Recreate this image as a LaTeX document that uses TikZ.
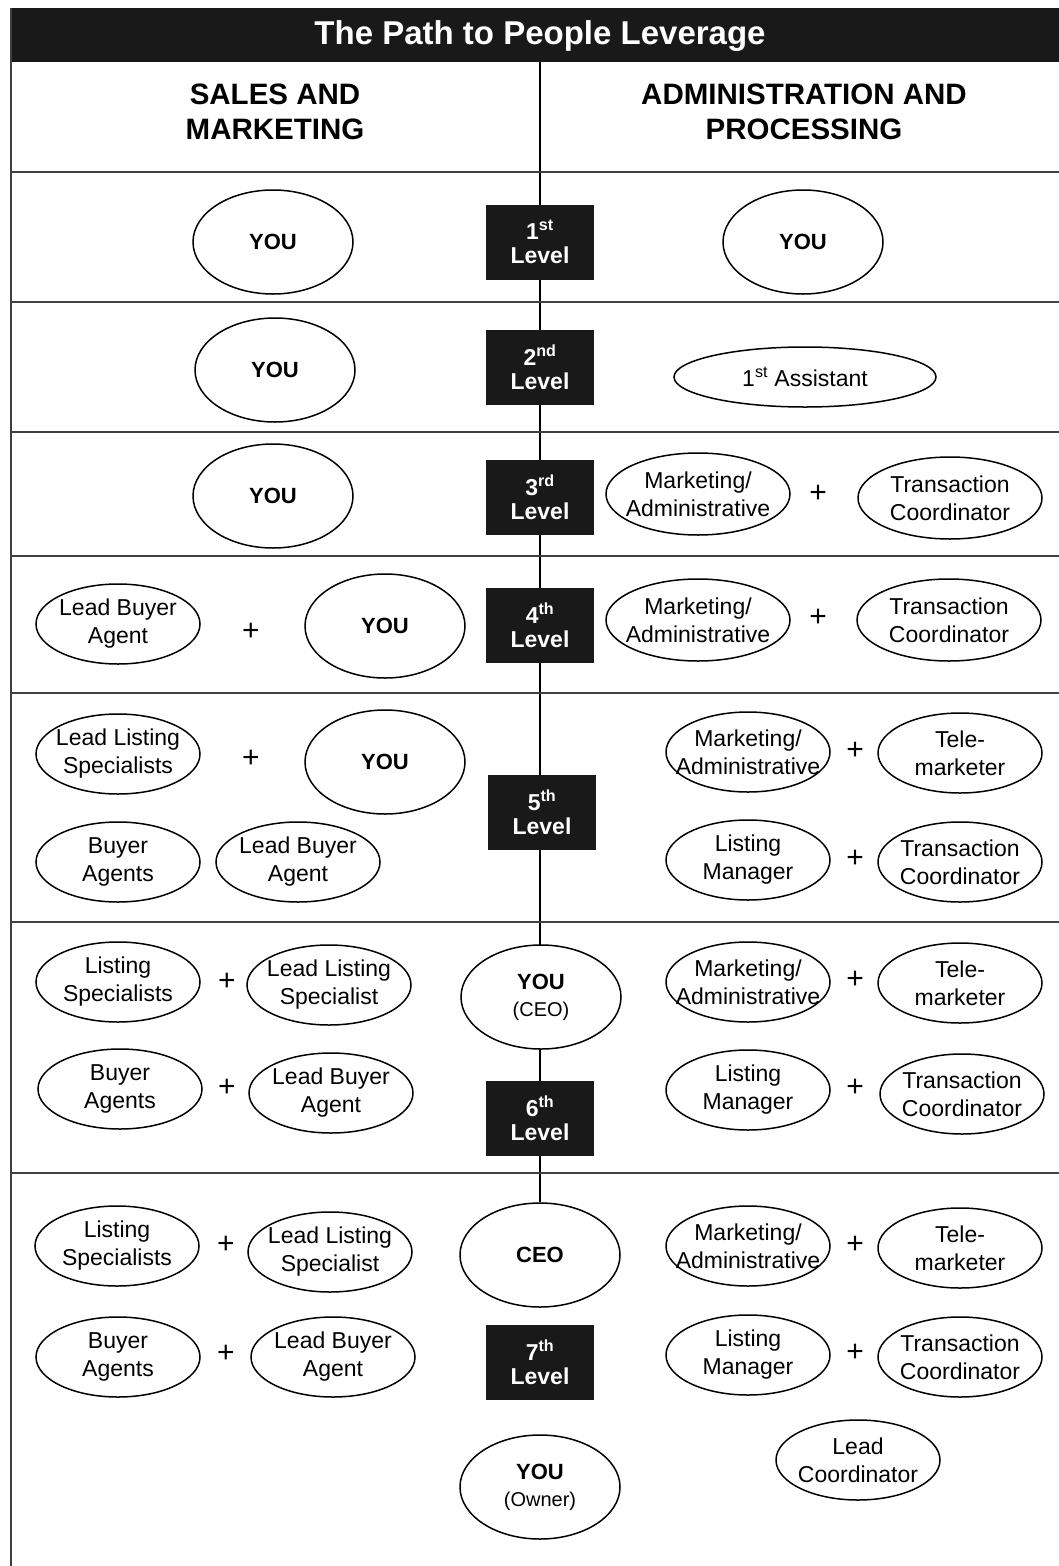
\documentclass[tikz,border=0pt]{standalone}
\usepackage{fontspec}
\setmainfont{Liberation Sans}
\usetikzlibrary{shapes.geometric,backgrounds}
\tikzset{
	role/.style={ellipse,draw,fill=white,line width=1.5pt,inner xsep=-20pt,inner ysep=-5pt,minimum width=164pt,minimum height=80pt,align=center,font=\fontsize{23}{28}\selectfont},
	roleW/.style={role,minimum width=184pt,minimum height=82pt},
	you/.style={role,inner sep=0pt,minimum width=160pt,minimum height=104pt,font=\fontsize{22}{27}\selectfont\bfseries},
	levelbox/.style={fill=black!90,text=white,minimum width=108pt,minimum height=75pt,inner sep=0pt,align=center,font=\fontsize{23}{24}\selectfont\bfseries},
	plus/.style={inner sep=0pt,font=\fontsize{30}{30}\selectfont},
	heading/.style={align=center,font=\fontsize{29.5}{35}\selectfont\bfseries},
	rule/.style={line width=2pt,black!75},
}
\newcommand{\sub}[1]{{\mdseries\fontsize{20}{27}\selectfont #1}}
\begin{document}
\begin{tikzpicture}[x=1pt,y=-1pt]
			\useasboundingbox (0,0) rectangle (1059,1566);
			\fill[black!90] (11,8) rectangle (1059,62);
			\node at (540,36) [text=white,font=\fontsize{33}{36}\selectfont\bfseries] (title) {The Path to People Leverage};
			\node at (275,112) [heading] (sales) {SALES AND\\MARKETING};
			\node at (804,112) [heading] (admin) {ADMINISTRATION AND\\PROCESSING};

			\coordinate (spine_top) at (540,62);
			\draw[rule] (11,8) -- (11,1566);
			\foreach \y in {172,302,432,556,693,922,1173}
				\draw[rule] (11,\y) -- (1059,\y);

			% 1st level
			\node at (540,242)  [levelbox] (level1) {1\textsuperscript{st}\\Level};
			\node at (273,242)  [you]      (you1_sales) {YOU};
			\node at (803,242)  [you]      (you1_admin) {YOU};

			% 2nd level
			\node at (540,367)  [levelbox] (level2) {2\textsuperscript{nd}\\Level};
			\node at (275,370)  [you]      (you2) {YOU};
			\node at (805,377)  [role,inner sep=0pt,minimum width=262pt,minimum height=60pt] (assistant2) {1\textsuperscript{st} Assistant};

			% 3rd level
			\node at (540,497)  [levelbox] (level3) {3\textsuperscript{rd}\\Level};
			\node at (273,496)  [you]      (you3) {YOU};
			\node at (698,494)  [roleW]    (marketing3) {Marketing/\\Administrative};
			\node at (818,494)  [plus]     (plus3) {+};
			\node at (950,498)  [roleW]    (transaction3) {Transaction\\Coordinator};

			% 4th level
			\node at (540,625)  [levelbox] (level4) {4\textsuperscript{th}\\Level};
			\node at (118,624)  [role]     (leadbuyer4) {Lead Buyer\\Agent};
			\node at (251,632)  [plus]     (plus4a) {+};
			\node at (385,626)  [you]      (you4) {YOU};
			\node at (698,620)  [roleW]    (marketing4) {Marketing/\\Administrative};
			\node at (818,618)  [plus]     (plus4b) {+};
			\node at (949,620)  [roleW]    (transaction4) {Transaction\\Coordinator};

			% 5th level
			\node at (542,812)  [levelbox] (level5) {5\textsuperscript{th}\\Level};
			\node at (118,754)  [role]     (leadlisting5) {Lead Listing\\Specialists};
			\node at (251,759)  [plus]     (plus5a) {+};
			\node at (385,762)  [you]      (you5) {YOU};
			\node at (118,862)  [role]     (buyers5) {Buyer\\Agents};
			\node at (298,862)  [role]     (leadbuyer5) {Lead Buyer\\Agent};
			\node at (748,752)  [role]     (marketing5) {Marketing/\\Administrative};
			\node at (855,751)  [plus]     (plus5b) {+};
			\node at (960,753)  [role]     (tele5) {Tele-\\marketer};
			\node at (748,860)  [role]     (listingmgr5) {Listing\\Manager};
			\node at (855,859)  [plus]     (plus5c) {+};
			\node at (960,862)  [role]     (transaction5) {Transaction\\Coordinator};

			% 6th level
			\node at (541,997)  [you]      (you6) {YOU\\\sub{(CEO)}};
			\node at (540,1118) [levelbox] (level6) {6\textsuperscript{th}\\Level};
			\node at (118,982)  [role]     (listing6) {Listing\\Specialists};
			\node at (227,982)  [plus]     (plus6a) {+};
			\node at (329,985)  [role]     (leadlisting6) {Lead Listing\\Specialist};
			\node at (120,1089) [role]     (buyers6) {Buyer\\Agents};
			\node at (227,1088) [plus]     (plus6b) {+};
			\node at (331,1093) [role]     (leadbuyer6) {Lead Buyer\\Agent};
			\node at (748,982)  [role]     (marketing6) {Marketing/\\Administrative};
			\node at (855,980)  [plus]     (plus6c) {+};
			\node at (960,983)  [role]     (tele6) {Tele-\\marketer};
			\node at (748,1090) [role]     (listingmgr6) {Listing\\Manager};
			\node at (855,1088) [plus]     (plus6d) {+};
			\node at (962,1094) [role]     (transaction6) {Transaction\\Coordinator};

			% 7th level
			\node at (540,1255) [you]      (ceo7) {CEO};
			\node at (540,1362) [levelbox] (level7) {7\textsuperscript{th}\\Level};
			\node at (540,1487) [you]      (owner7) {YOU\\\sub{(Owner)}};
			\node at (117,1246) [role]     (listing7) {Listing\\Specialists};
			\node at (226,1245) [plus]     (plus7a) {+};
			\node at (330,1252) [role]     (leadlisting7) {Lead Listing\\Specialist};
			\node at (118,1357) [role]     (buyers7) {Buyer\\Agents};
			\node at (226,1354) [plus]     (plus7b) {+};
			\node at (333,1357) [role]     (leadbuyer7) {Lead Buyer\\Agent};
			\node at (748,1246) [role]     (marketing7) {Marketing/\\Administrative};
			\node at (855,1245) [plus]     (plus7c) {+};
			\node at (960,1248) [role]     (tele7) {Tele-\\marketer};
			\node at (748,1355) [role]     (listingmgr7) {Listing\\Manager};
			\node at (855,1353) [plus]     (plus7d) {+};
			\node at (960,1357) [role]     (transaction7) {Transaction\\Coordinator};
			\node at (858,1460) [role]     (leadcoord7) {Lead\\Coordinator};

			\begin{pgfonlayer}{background}
				\draw[line width=2.5pt] (spine_top) -- (ceo7.north);
			\end{pgfonlayer}
		\end{tikzpicture}
\end{document}
